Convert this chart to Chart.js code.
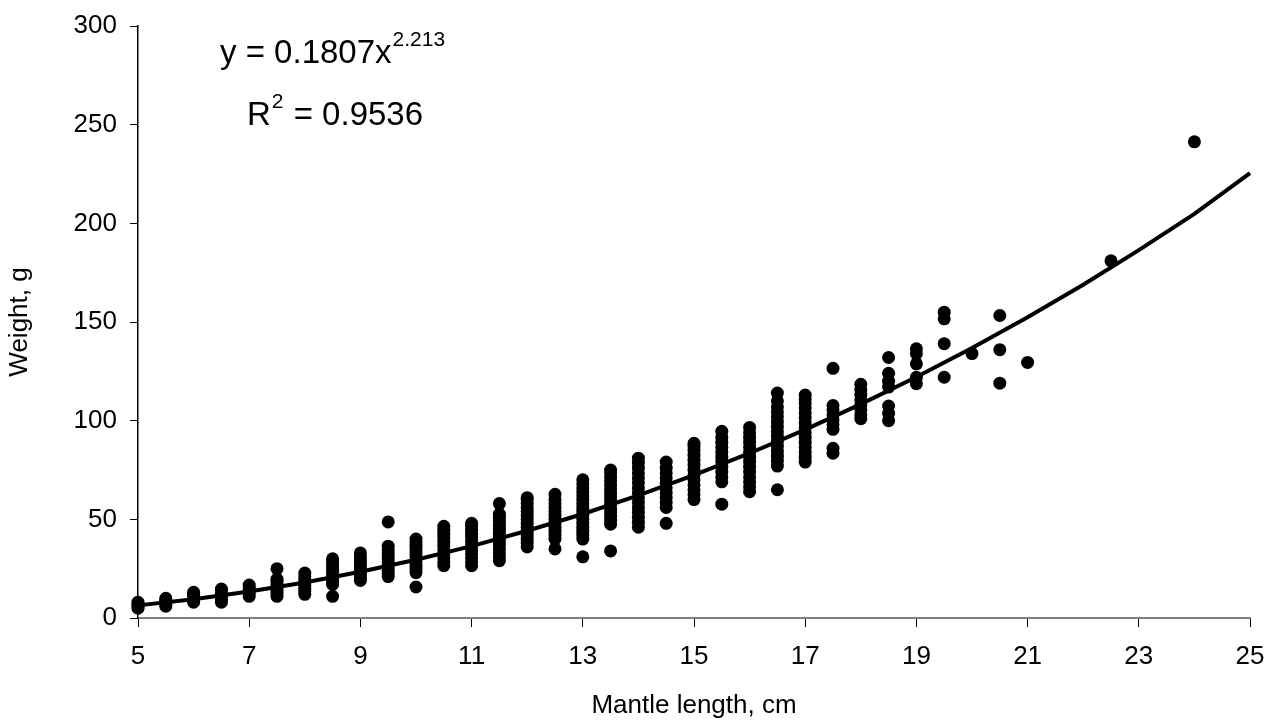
<!DOCTYPE html>
<html>
<head>
<meta charset="utf-8">
<script src="https://cdn.jsdelivr.net/npm/chart.js@4/dist/chart.umd.min.js"></script>
<style>
  html, body { margin: 0; padding: 0; background: #fff; }
  #wrap { width: 1274px; height: 725px; position: relative; }
</style>
</head>
<body>
<div id="wrap"><canvas id="chart"></canvas></div>
<script>
// Mantle length classes (cm) and the weights (g)
const lengths = [5, 5.5, 6, 6.5, 7, 7.5, 8, 8.5, 9, 9.5, 10, 10.5, 11, 11.5, 12, 12.5, 13, 13.5,
    14, 14.5, 15, 15.5, 16, 16.5, 17, 17.5, 18, 18.5, 19, 19.5, 20, 20.5, 21, 22.5, 24];

const weights = [
    [5, 6, 7, 8],
    [6, 7, 8, 9, 10],
    [8, 9.5, 11, 12, 13],
    [8, 9.5, 11, 12.5, 14, 14.7],
    [11, 12.5, 14, 15.5, 16.7],
    [11, 12.5, 14, 15.5, 17, 18.5, 19.7, 25],
    [12, 13.5, 15, 16.5, 18, 19.5, 21, 22.8],
    [11, 17, 18.5, 20, 21.5, 23, 24.5, 26, 27.5, 29, 30],
    [19, 20.5, 22, 23.5, 25, 26.5, 28, 29.5, 31, 33],
    [21, 22.5, 24, 25.5, 27, 28.5, 30, 31.5, 33, 34.5, 36.4, 48.7],
    [15.7, 23, 24.5, 26, 27.5, 29, 30.5, 32, 33.5, 35, 36.5, 38, 40],
    [26.5, 28.5, 30.5, 32.5, 34.5, 36.5, 38.5, 40.5, 42.5, 44.5, 46.5],
    [26.5, 28.5, 30.5, 32.5, 34.5, 36.5, 38.5, 40.5, 42.5, 44.5, 46.5, 48],
    [29, 31, 33, 35, 37, 39, 41, 43, 45, 47, 49, 51, 52.6, 58],
    [36, 38, 40, 42, 44, 46, 48, 50, 52, 54, 56, 58, 60, 61],
    [35, 40, 42, 44, 46, 48, 50, 52, 54, 56, 58, 60, 62.7],
    [31, 40, 42, 44, 46, 48, 50, 52, 54, 56, 58, 60, 62, 64, 66, 68, 70],
    [34, 47.5, 49.5, 51.5, 53.5, 55.5, 57.5, 59.5, 61.5, 63.5, 65.5, 67.5, 69.5, 71.5, 73.5, 75],
    [46, 48.5, 51, 53.5, 56, 58.5, 61, 63.5, 66, 68.5, 71, 73.5, 76, 78.5, 81],
    [48, 56, 58.5, 61, 63.5, 66, 68.5, 71, 73.5, 76, 79],
    [60, 62.5, 65, 67.5, 70, 72.5, 75, 77.5, 80, 82.5, 85, 87, 88.5],
    [57.7, 69, 71.5, 74, 76.5, 79, 81.5, 84, 86.5, 89, 91.5, 94.6],
    [64, 66.5, 69, 71.5, 74, 76.5, 79, 81.5, 84, 86.5, 89, 91.5, 94, 96.6],
    [65, 77, 79.5, 82, 84.5, 87, 89.5, 92, 94.5, 97, 99.5, 102, 104.5, 107, 110, 114],
    [79, 81.5, 84, 86.5, 89, 91.5, 94, 96.5, 99, 101.5, 104, 106.5, 109, 111, 113],
    [83.5, 86, 95.6, 98, 100.5, 103, 105.5, 107.7, 126.5],
    [101, 103, 105.5, 108, 110.5, 113, 115.5, 118.4],
    [100, 103.7, 107.4, 117, 120, 124, 132],
    [118.7, 122, 128.8, 133.9, 136.4],
    [122, 139, 151.6, 155],
    [134],
    [119, 136, 153.3],
    [129.5],
    [181],
    [241.3]
];

// power trendline y = 0.1807x^2.213, values read at whole centimetres
const fitX = [5, 6, 7, 8, 9, 10, 11, 12, 13, 14, 15, 16, 17, 18, 19, 20, 21, 22, 23, 24, 25];
const fitY = [6.4, 9.5, 13.4, 18.0, 23.4, 29.5, 36.4, 44.2, 52.7, 62.1, 72.4, 83.5, 95.5,
    108.4, 122.1, 136.8, 152.4, 168.9, 186.4, 204.8, 225.5];

const xTicks = [5, 7, 9, 11, 13, 15, 17, 19, 21, 23, 25];
const yTicks = [0, 50, 100, 150, 200, 250, 300];

const points = [];
lengths.forEach((len, i) => {
    weights[i].forEach(w => points.push({ x: len, y: w }));
});
const fitLine = fitX.map((x, i) => ({ x: x, y: fitY[i] }));

const FONT = '"Liberation Sans", Arial, sans-serif';

// equation text in the upper left
const equationPlugin = {
    id: 'equation',
    afterDraw(chart) {
        const ctx = chart.ctx;
        ctx.save();
        ctx.fillStyle = '#000';
        ctx.textBaseline = 'alphabetic';
        ctx.textAlign = 'left';

        ctx.font = '33px ' + FONT;
        const line1 = 'y = 0.1807x';
        ctx.fillText(line1, 220, 63);
        const w1 = ctx.measureText(line1).width;
        ctx.font = '21px ' + FONT;
        ctx.fillText('2.213', 220 + w1 + 1, 46);

        ctx.font = '33px ' + FONT;
        ctx.fillText('R', 247, 125);
        const wr = ctx.measureText('R').width;
        ctx.font = '21px ' + FONT;
        ctx.fillText('2', 247 + wr + 1, 108);
        const w2 = ctx.measureText('2').width;
        ctx.font = '33px ' + FONT;
        ctx.fillText(' = 0.9536', 247 + wr + w2 + 2, 125);
        ctx.restore();
    }
};

new Chart(document.getElementById('chart'), {
    type: 'scatter',
    data: {
        datasets: [{
            label: 'Weight',
            data: points,
            pointRadius: 6.5,
            pointBackgroundColor: '#000',
            pointBorderWidth: 0,
            clip: false,
            order: 2
        }, {
            type: 'line',
            label: 'Power fit',
            data: fitLine,
            borderColor: '#000',
            borderWidth: 4,
            pointRadius: 0,
            tension: 0,
            fill: false,
            clip: false,
            order: 1
        }]
    },
    options: {
        responsive: true,
        maintainAspectRatio: false,
        animation: false,
        layout: { padding: { top: 26, right: 24, bottom: 0, left: 0 } },
        plugins: {
            legend: { display: false },
            tooltip: { enabled: false }
        },
        scales: {
            x: {
                type: 'linear',
                min: 5,
                max: 25,
                afterBuildTicks: s => { s.ticks = xTicks.map(v => ({ value: v })); },
                afterFit: s => { s.height = 107; s.paddingLeft = 0; s.paddingRight = 0; },
                grid: { drawOnChartArea: false, drawTicks: true, tickLength: 9, color: '#000' },
                border: { display: true, color: '#808080', width: 2 },
                ticks: { color: '#000', padding: 14, font: { family: FONT, size: 26 } },
                title: {
                    display: true,
                    text: 'Mantle length, cm',
                    color: '#000',
                    font: { family: FONT, size: 26 },
                    padding: { top: 0, bottom: 4 }
                }
            },
            y: {
                min: 0,
                max: 300,
                afterBuildTicks: s => { s.ticks = yTicks.map(v => ({ value: v })); },
                afterFit: s => { s.width = 138; s.paddingTop = 0; s.paddingBottom = 0; },
                grid: { drawOnChartArea: false, drawTicks: true, tickLength: 8, color: '#000' },
                border: { display: true, color: '#000', width: 1.5 },
                ticks: { color: '#000', padding: 13, font: { family: FONT, size: 26 } },
                title: {
                    display: true,
                    text: 'Weight, g',
                    color: '#000',
                    font: { family: FONT, size: 26 },
                    padding: { top: 4, bottom: 0 }
                }
            }
        }
    },
    plugins: [equationPlugin]
});
</script>
</body>
</html>
